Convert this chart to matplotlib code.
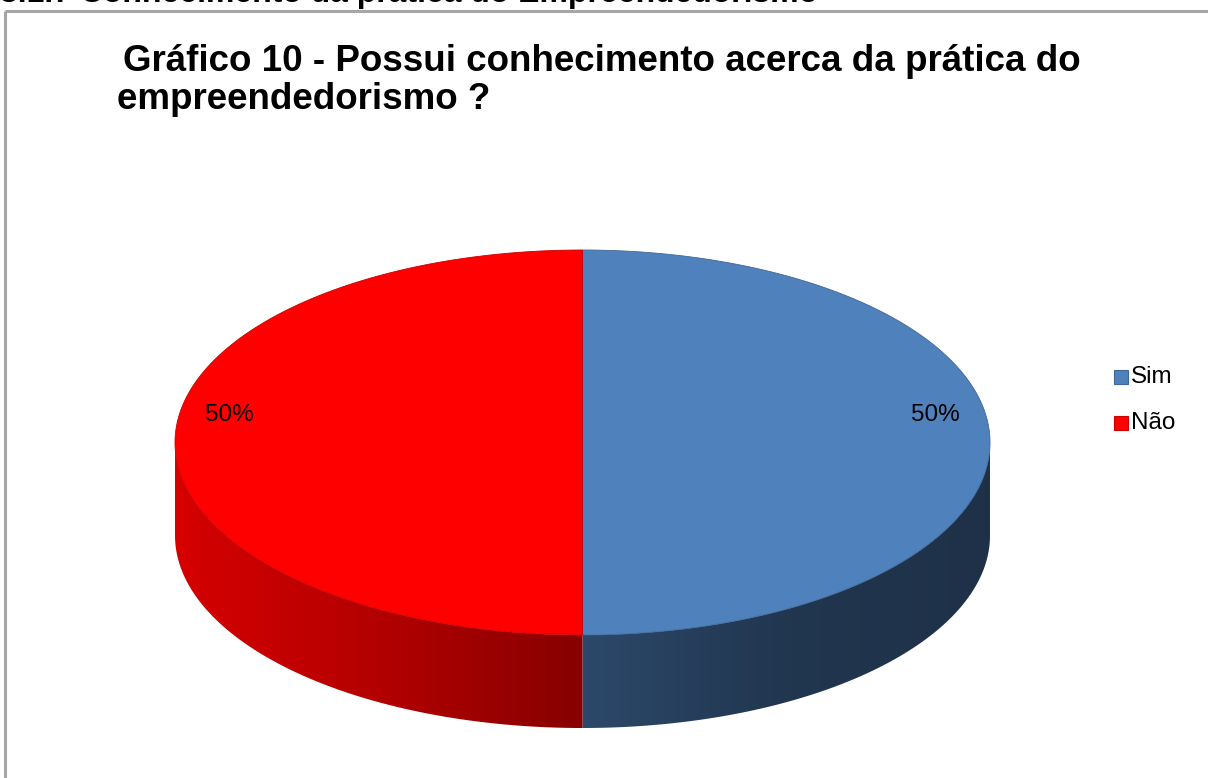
import numpy as np
import matplotlib
matplotlib.use("Agg")
import matplotlib.pyplot as plt
from matplotlib.patches import Polygon, Rectangle
from matplotlib.colors import to_rgb

categories = ["Sim", "Não"]
values = [50, 50]
labels = ["50%", "50%"]
title_lines = ["Gráfico 10 - Possui conhecimento acerca da prática do", "empreendedorismo ?"]
header = "3.1.7 Conhecimento da prática do Empreendedorismo"

colors = ["#4F81BD", "#FF0000"]

plt.rcParams["font.family"] = ["Liberation Sans", "DejaVu Sans"]

W, H = 1208, 778
fig = plt.figure(figsize=(W / 100, H / 100), dpi=100)
ax = fig.add_axes([0, 0, 1, 1])
ax.set_xlim(0, W)
ax.set_ylim(H, 0)
ax.axis("off")

# header (cut off at top, as in the reference)
ax.text(0, 1.5, header, fontsize=23, fontweight="bold", ha="left", va="baseline",
        clip_on=False)

# frame
ax.plot([5, W + 5], [11, 11], color="#A6A6A6", lw=2.2, solid_capstyle="butt")
ax.plot([5, 5], [11, H + 5], color="#A6A6A6", lw=2.2, solid_capstyle="butt")

# title
ax.text(123, 61, title_lines[0], fontsize=26.5, fontweight="bold", ha="left", va="center")
ax.text(117, 99, title_lines[1], fontsize=26.5, fontweight="bold", ha="left", va="center")

cx, cy, rx, ry, depth = 582.5, 442.5, 407.5, 192.5, 93

total = sum(values)
start = -90.0  # top, clockwise in screen coords (y down)
angles = []
for v in values:
    span = 360.0 * v / total
    angles.append((start, start + span))
    start += span


def shade(c, f):
    r, g, b = to_rgb(c)
    return (r * f, g * f, b * f)


# side walls (visible lower half: t in [0, 180])
for (a0, a1), col in zip(angles, colors):
    segs = []
    lo, hi = max(a0, 0), min(a1, 180)
    if lo < hi:
        segs.append((lo, hi))
    if a1 > 360:
        lo2, hi2 = max(a0 - 360, 0), min(a1 - 360, 180)
        if lo2 < hi2:
            segs.append((lo2, hi2))
    for lo, hi in segs:
        t = np.radians(np.linspace(lo, hi, 200))
        xs = cx + rx * np.cos(t)
        ys = cy + ry * np.sin(t)
        pts = np.concatenate([np.c_[xs, ys], np.c_[xs[::-1], ys[::-1] + depth]])
        poly = Polygon(pts, closed=True, facecolor="none", edgecolor="none")
        ax.add_patch(poly)
        n = 256
        xg = np.linspace(cx - rx, cx + rx, n)
        rel = (xg - cx) / rx  # -1..1
        if col == colors[0]:
            f = np.interp(rel, [0, 0.5, 1], [0.56, 0.42, 0.38])
        else:
            f = np.interp(rel, [-1, -0.5, 0], [0.84, 0.70, 0.53])
        base = np.array(to_rgb(col))
        img = (base[None, :] * f[:, None])[None, :, :]
        im = ax.imshow(img, extent=[cx - rx, cx + rx, cy + ry + depth + 2, cy - 2],
                       aspect="auto", interpolation="bilinear", zorder=2)
        im.set_clip_path(poly)

# top faces
for (a0, a1), col in zip(angles, colors):
    t = np.radians(np.linspace(a0, a1, 300))
    xs = np.r_[cx, cx + rx * np.cos(t)]
    ys = np.r_[cy, cy + ry * np.sin(t)]
    ax.add_patch(Polygon(np.c_[xs, ys], closed=True, facecolor=col,
                         edgecolor=shade(col, 0.8), lw=0.6, zorder=3))

# data labels
for (a0, a1), lab in zip(angles, labels):
    mid = np.radians((a0 + a1) / 2)
    lx = cx + 0.866 * rx * np.cos(mid)
    ly = cy + 0.866 * ry * np.sin(mid) - 28
    ax.text(lx, ly, lab, fontsize=17.5, ha="center", va="center", zorder=5)

# legend
for i, (cat, col) in enumerate(zip(categories, colors)):
    y = 376.5 + 46.5 * i
    ax.add_patch(Rectangle((1113.5, y - 7), 14, 14, facecolor=col,
                           edgecolor=shade(col, 0.8), lw=0.8, zorder=5))
    ax.text(1131, y, cat, fontsize=17.5, ha="left", va="center")

fig.savefig("out.png", dpi=100)
